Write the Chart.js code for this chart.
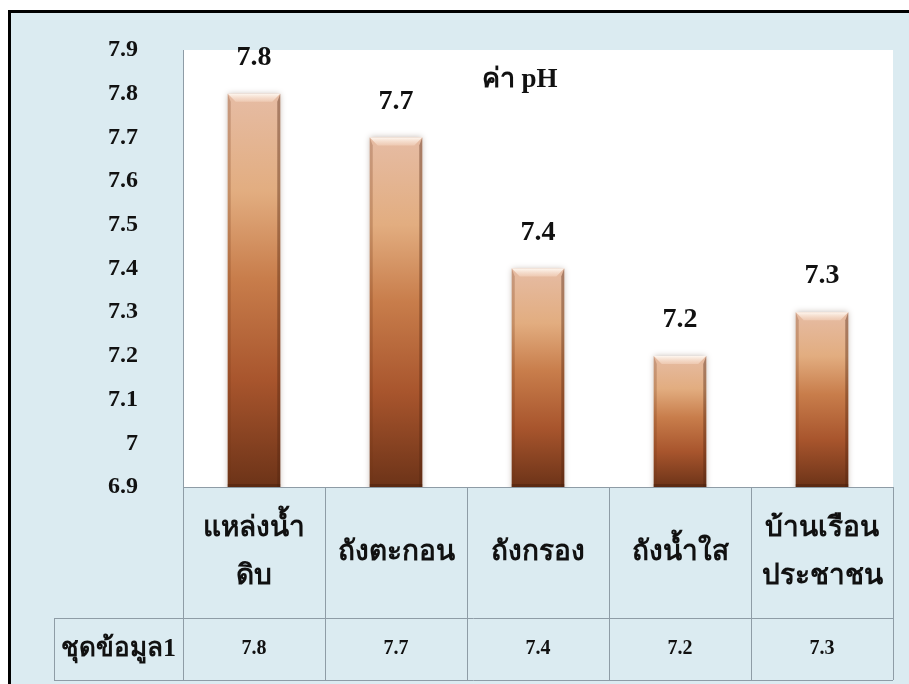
<!DOCTYPE html>
<html>
<head>
<meta charset="utf-8">
<script src="https://cdn.jsdelivr.net/npm/chart.js@4/dist/chart.umd.min.js"></script>
<style>
  html, body { margin: 0; padding: 0; background: #ffffff; }
  #wrap { position: relative; width: 909px; height: 684px; }
</style>
</head>
<body>
<div id="wrap"><canvas id="c" width="909" height="684"></canvas></div>
<script>
// pH readings at each stage of the water supply
const categories = [['แหล่งน้ำ', 'ดิบ'], ['ถังตะกอน'], ['ถังกรอง'], ['ถังน้ำใส'], ['บ้านเรือน', 'ประชาชน']];
const phValues = [7.8, 7.7, 7.4, 7.2, 7.3];
const valueLabels = ['7.8', '7.7', '7.4', '7.2', '7.3'];
const seriesName = 'ชุดข้อมูล1';
const chartTitle = 'ค่า pH';
const yTickValues = [6.9, 7.0, 7.1, 7.2, 7.3, 7.4, 7.5, 7.6, 7.7, 7.8, 7.9];
const yTickLabels = ['6.9', '7', '7.1', '7.2', '7.3', '7.4', '7.5', '7.6', '7.7', '7.8', '7.9'];

const SERIF = '"Liberation Serif", "Times New Roman", serif';
const PANEL = '#dbebf1';
const GRID = '#8e9ca6';

// vertical copper gradient for each bar, from its top to the axis base
function barFill(c) {
  const chart = c.chart;
  if (c.dataIndex === undefined || !chart.chartArea) return '#c07a4a';
  const y = chart.scales.y;
  const top = y.getPixelForValue(phValues[c.dataIndex]);
  const bot = y.getPixelForValue(y.min);
  const g = chart.ctx.createLinearGradient(0, top, 0, bot);
  g.addColorStop(0.0, '#e6bca4');
  g.addColorStop(0.25, '#e2ad80');
  g.addColorStop(0.47, '#c87d4b');
  g.addColorStop(0.73, '#a8552d');
  g.addColorStop(1.0, '#6c3318');
  return g;
}

const backdrop = {
  id: 'backdrop',
  beforeDraw(chart) {
    const ctx = chart.ctx, a = chart.chartArea;
    ctx.save();
    ctx.fillStyle = '#ffffff';
    ctx.fillRect(0, 0, chart.width, chart.height);
    ctx.fillStyle = PANEL;
    ctx.fillRect(9, 12, chart.width - 9, chart.height - 12);
    ctx.fillStyle = '#ffffff';
    ctx.fillRect(a.left, a.top, a.width, a.height);
    ctx.fillStyle = '#000000';
    ctx.fillRect(8, 10, chart.width - 8, 3);
    ctx.fillRect(8, 10, 3, chart.height - 10);
    ctx.restore();
  }
};

const barShading = {
  id: 'barShading',
  beforeDatasetsDraw(chart) {
    const ctx = chart.ctx;
    ctx.save();
    ctx.shadowColor = 'rgba(90,60,40,0.35)';
    ctx.shadowBlur = 6;
  },
  afterDatasetsDraw(chart) {
    const ctx = chart.ctx;
    ctx.restore();
    const meta = chart.getDatasetMeta(0);
    const bottom = chart.chartArea.bottom;
    ctx.save();
    meta.data.forEach((bar) => {
      const l = bar.x - bar.width / 2, r = bar.x + bar.width / 2;
      const t = bar.y, b = Math.min(bar.base, bottom), bv = 8;
      // top bevel highlight
      const hg = ctx.createLinearGradient(0, t, 0, t + bv);
      hg.addColorStop(0, 'rgba(255,250,244,0.95)');
      hg.addColorStop(1, 'rgba(245,215,195,0.55)');
      ctx.fillStyle = hg;
      ctx.beginPath();
      ctx.moveTo(l, t); ctx.lineTo(r, t); ctx.lineTo(r - bv, t + bv); ctx.lineTo(l + bv, t + bv);
      ctx.closePath(); ctx.fill();
      // side bevels
      ctx.fillStyle = 'rgba(110,50,20,0.25)';
      ctx.beginPath();
      ctx.moveTo(l, t); ctx.lineTo(l + 3, t + bv); ctx.lineTo(l + 3, b); ctx.lineTo(l, b);
      ctx.closePath(); ctx.fill();
      ctx.fillStyle = 'rgba(80,35,15,0.4)';
      ctx.beginPath();
      ctx.moveTo(r, t); ctx.lineTo(r - 3, t + bv); ctx.lineTo(r - 3, b); ctx.lineTo(r, b);
      ctx.closePath(); ctx.fill();
      ctx.fillStyle = 'rgba(60,25,10,0.35)';
      ctx.fillRect(l, b - 3, r - l, 3);
    });
    ctx.restore();
  }
};

const annotations = {
  id: 'annotations',
  afterDraw(chart) {
    const ctx = chart.ctx, a = chart.chartArea;
    const xs = chart.scales.x;
    const meta = chart.getDatasetMeta(0);
    const n = categories.length;
    const step = a.width / n;
    const row1Bottom = a.bottom + 131;
    const row2Bottom = a.bottom + 193;
    const headLeft = 54;
    ctx.save();

    // value labels above the bars
    ctx.fillStyle = '#111111';
    ctx.textAlign = 'center';
    ctx.textBaseline = 'middle';
    ctx.font = 'bold 28px ' + SERIF;
    meta.data.forEach((bar, i) => {
      ctx.fillText(valueLabels[i], bar.x, bar.y - 36);
    });

    // chart title inside the plot
    ctx.font = 'bold 27px ' + SERIF;
    ctx.fillText(chartTitle, a.left + step * 2.37, a.top + 30);

    // data table
    ctx.strokeStyle = GRID;
    ctx.lineWidth = 1;
    ctx.beginPath();
    ctx.moveTo(a.left, a.bottom + 0.5); ctx.lineTo(a.right, a.bottom + 0.5);
    ctx.moveTo(headLeft, row1Bottom + 0.5); ctx.lineTo(a.right, row1Bottom + 0.5);
    ctx.moveTo(headLeft, row2Bottom + 0.5); ctx.lineTo(a.right, row2Bottom + 0.5);
    ctx.moveTo(headLeft + 0.5, row1Bottom); ctx.lineTo(headLeft + 0.5, row2Bottom);
    for (let i = 0; i <= n; i++) {
      const x = Math.round(a.left + step * i) + 0.5;
      ctx.moveTo(x, a.bottom); ctx.lineTo(x, row2Bottom);
    }
    ctx.stroke();

    ctx.fillStyle = '#111111';
    ctx.font = 'bold 28px ' + SERIF;
    const lineGap = 48;
    const mid1 = (a.bottom + row1Bottom) / 2;
    categories.forEach((lines, i) => {
      const cx = xs.getPixelForValue(i);
      const y0 = mid1 - (lines.length - 1) * lineGap / 2;
      lines.forEach((txt, k) => ctx.fillText(txt, cx, y0 + k * lineGap));
    });
    const mid2 = (row1Bottom + row2Bottom) / 2;
    ctx.font = 'bold 26px ' + SERIF;
    ctx.fillText(seriesName, (headLeft + a.left) / 2, mid2);
    ctx.font = 'bold 20px ' + SERIF;
    valueLabels.forEach((v, i) => ctx.fillText(v, xs.getPixelForValue(i), mid2));
    ctx.restore();
  }
};

new Chart(document.getElementById('c'), {
  type: 'bar',
  data: {
    labels: categories,
    datasets: [{
      label: seriesName,
      data: phValues,
      backgroundColor: barFill,
      borderWidth: 0,
      barPercentage: 0.37,
      categoryPercentage: 1.0
    }]
  },
  options: {
    responsive: false,
    animation: false,
    layout: { padding: { top: 50, right: 16, left: 0, bottom: 0 } },
    plugins: {
      legend: { display: false },
      tooltip: { enabled: false },
      title: { display: false }
    },
    scales: {
      x: {
        grid: { display: false },
        border: { display: false },
        ticks: { display: false },
        afterFit(scale) { scale.height = 197; }
      },
      y: {
        min: 6.9,
        max: 7.9,
        grid: { display: false, drawTicks: false },
        border: { display: true, color: GRID, width: 1 },
        afterBuildTicks(scale) { scale.ticks = yTickValues.map(v => ({ value: v })); },
        ticks: {
          padding: 45,
          color: '#111111',
          font: { family: SERIF, size: 24, weight: 'bold' },
          callback: (v, i) => yTickLabels[i]
        },
        afterFit(scale) {
          scale.width = 183;
          scale.paddingTop = 0;
          scale.paddingBottom = 0;
        }
      }
    }
  },
  plugins: [backdrop, barShading, annotations]
});
</script>
</body>
</html>
